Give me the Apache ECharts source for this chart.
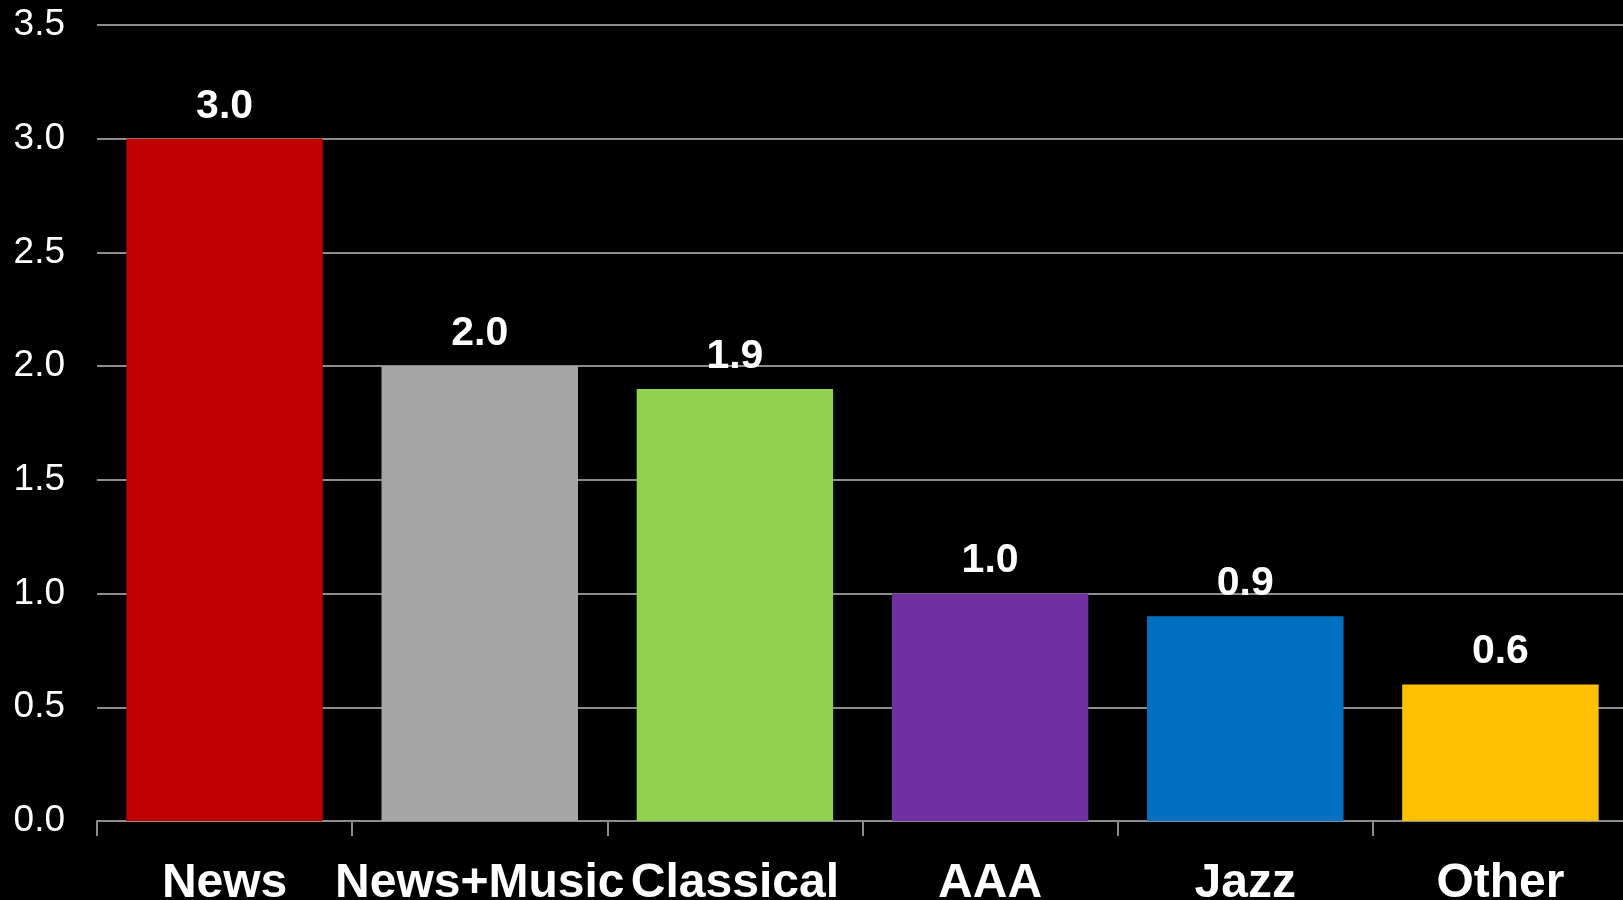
<!DOCTYPE html>
<html>
<head>
<meta charset="utf-8">
<script src="https://cdn.jsdelivr.net/npm/echarts@6/dist/echarts.min.js"></script>
<style>
  html, body { margin: 0; padding: 0; background: #000; overflow: hidden; }
  #chart { width: 1623px; height: 900px; }
</style>
</head>
<body>
<div id="chart"></div>
<script>
// Format categories and their values
const categories = ['News', 'News+Music', 'Classical', 'AAA', 'Jazz', 'Other'];
const values = [3.0, 2.0, 1.9, 1.0, 0.9, 0.6];
const barColors = ['#C00000', '#A6A6A6', '#92D050', '#7030A0', '#0070C0', '#FFC000'];
const yTicks = { min: 0, max: 3.5, interval: 0.5 };

const font = '"Liberation Sans", Arial, sans-serif';

const chart = echarts.init(document.getElementById('chart'));
chart.setOption({
  backgroundColor: '#000000',
  animation: false,
  // the plot runs slightly past the right edge, so the last category is clipped
  grid: { left: 97, top: 25, width: 1531, bottom: 79, outerBoundsMode: 'none', containLabel: false },
  xAxis: {
    type: 'category',
    data: categories,
    axisLine: { show: true, lineStyle: { color: '#8c8c8c', width: 2 } },
    axisTick: { show: true, length: 15, lineStyle: { color: '#8c8c8c', width: 2 } },
    axisLabel: {
      interval: 0,
      color: '#ffffff',
      fontFamily: font,
      fontWeight: 'bold',
      fontSize: 48,
      margin: 39
    }
  },
  yAxis: {
    type: 'value',
    min: yTicks.min,
    max: yTicks.max,
    interval: yTicks.interval,
    axisLine: { show: false },
    axisTick: { show: false },
    splitLine: { show: true, lineStyle: { color: '#8c8c8c', width: 2 } },
    axisLabel: {
      color: '#ffffff',
      fontFamily: font,
      fontSize: 37,
      margin: 32,
      formatter: v => v.toFixed(1)
    }
  },
  series: [{
    type: 'bar',
    data: values.map((v, i) => ({ value: v, itemStyle: { color: barColors[i] } })),
    barCategoryGap: '23%',
    label: {
      show: true,
      position: 'top',
      distance: 12,
      color: '#ffffff',
      fontFamily: font,
      fontWeight: 'bold',
      fontSize: 41,
      formatter: p => p.value.toFixed(1)
    }
  }]
});
</script>
</body>
</html>
